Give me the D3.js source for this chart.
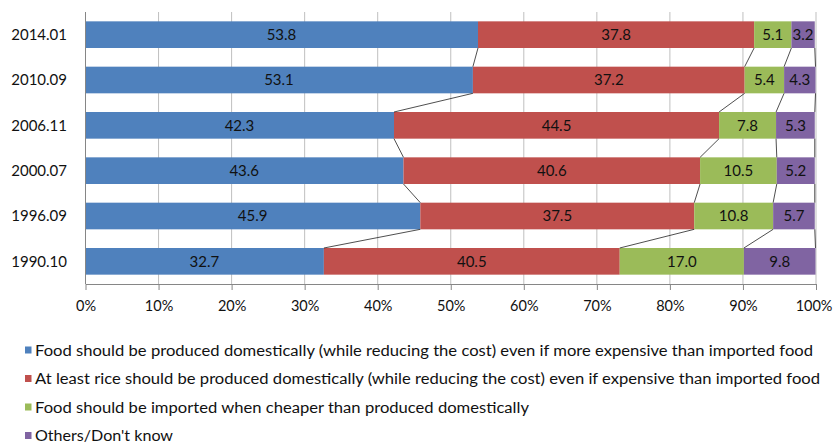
<!DOCTYPE html>
<html><head><meta charset="utf-8">
<script src="https://cdnjs.cloudflare.com/ajax/libs/d3/7.8.5/d3.min.js"></script>
<style>
html,body{margin:0;padding:0;background:#fff;}
svg{display:block;font-family:Lato,"Open Sans",sans-serif;}
</style></head>
<body>
<svg id="chart" width="833" height="443"></svg>
<script>
const categories = ["2014.01","2010.09","2006.11","2000.07","1996.09","1990.10"];
const seriesNames = [
  "Food should be produced domestically (while reducing the cost) even if more expensive than imported food",
  "At least rice should be produced domestically (while reducing the cost) even if expensive than imported food",
  "Food should be imported when cheaper than produced domestically",
  "Others/Don't know"
];
const domestic = [53.8, 53.1, 42.3, 43.6, 45.9, 32.7];
const rice     = [37.8, 37.2, 44.5, 40.6, 37.5, 40.5];
const imported = [5.1, 5.4, 7.8, 10.5, 10.8, 17.0];
const others   = [3.2, 4.3, 5.3, 5.2, 5.7, 9.8];
const xTicks = [0,10,20,30,40,50,60,70,80,90,100];
const colors = ["#4F81BD","#C0504D","#9BBB59","#8064A2"];

const seriesValues = [domestic, rice, imported, others];
const svg = d3.select("#chart");
const x = d3.scaleLinear().domain([0,100]).range([85,815.5]);
const y = d3.scaleBand().domain(categories).range([12,284]).paddingInner(0.412).paddingOuter(0.206);

// gridlines
svg.append("g").selectAll("line").data(xTicks).join("line")
  .attr("x1", d=>x(d)+0.5).attr("x2", d=>x(d)+0.5)
  .attr("y1", 12).attr("y2", 284)
  .attr("stroke", "#BFBFBF").attr("stroke-width", 1);

// stacked data
const rows = categories.map((c,i)=>{
  let acc = 0;
  return seriesValues.map((arr,s)=>{ const v=arr[i]; const seg={cat:c, s, v, x0:acc, x1:acc+v}; acc+=v; return seg; });
});

// bars
const g = svg.append("g");
rows.forEach(r=>{
  g.selectAll(null).data(r).join("rect")
    .attr("x", d=>x(d.x0)).attr("width", d=>Math.max(0, x(Math.min(d.x1,100))-x(d.x0)))
    .attr("y", d=>y(d.cat)).attr("height", y.bandwidth())
    .attr("fill", d=>colors[d.s]);
});

// series lines
const seriesLines = svg.append("g");
for (let s=0; s<4; s++){
  for (let i=0; i<categories.length-1; i++){
    const a = rows[i][s], b = rows[i+1][s];
    seriesLines.append("line")
      .attr("x1", x(Math.min(a.x1,100))).attr("y1", y(a.cat)+y.bandwidth())
      .attr("x2", x(Math.min(b.x1,100))).attr("y2", y(b.cat))
      .attr("stroke", "#222").attr("stroke-width", 0.8);
  }
}

// labels
rows.forEach(r=>{
  g.selectAll(null).data(r).join("text")
    .attr("x", d=>x((d.x0+Math.min(d.x1,100))/2)).attr("y", d=>y(d.cat)+y.bandwidth()/2)
    .attr("dy", "0.36em").attr("text-anchor","middle")
    .attr("font-size", 15).attr("fill","#111")
    .text(d=>d.v.toFixed(1));
});

// axes
const xAxis = d3.axisBottom(x).tickValues(xTicks).tickFormat(d=>d+"%").tickSize(6).tickSizeOuter(0);
const ax = svg.append("g").attr("transform","translate(0.5,284)").call(xAxis);
ax.select(".domain").attr("stroke","#868686");
ax.selectAll(".tick line").attr("stroke","#868686");
ax.selectAll(".tick text").attr("font-size",14.5).attr("fill","#111").attr("y",17).attr("dy","0.71em")
  .attr("font-family","Lato,sans-serif");
ax.selectAll(".tick text").filter(d=>d===100).attr("text-anchor","end").attr("x",16);

svg.append("line").attr("x1",85.5).attr("x2",85.5).attr("y1",12).attr("y2",284).attr("stroke","#868686");

svg.append("g").selectAll("text").data(categories).join("text")
  .attr("x", 67).attr("y", d=>y(d)+y.bandwidth()/2).attr("dy","0.36em")
  .attr("text-anchor","end").attr("font-size",15).attr("fill","#111").text(d=>d);

// legend
const legendEnds = [813, 820, 529, 173];
const leg = svg.append("g");
seriesNames.forEach((n,i)=>{
  const cy = 350 + i*28.5;
  leg.append("rect").attr("x",25).attr("y",cy-3.5).attr("width",6.5).attr("height",7).attr("fill",colors[i]);
  leg.append("text").attr("x",35).attr("y",cy).attr("dy","0.36em").attr("font-size",15.5).attr("fill","#111")
    .attr("textLength", legendEnds[i]-35).attr("lengthAdjust","spacingAndGlyphs").text(n);
});
</script>
</body></html>
